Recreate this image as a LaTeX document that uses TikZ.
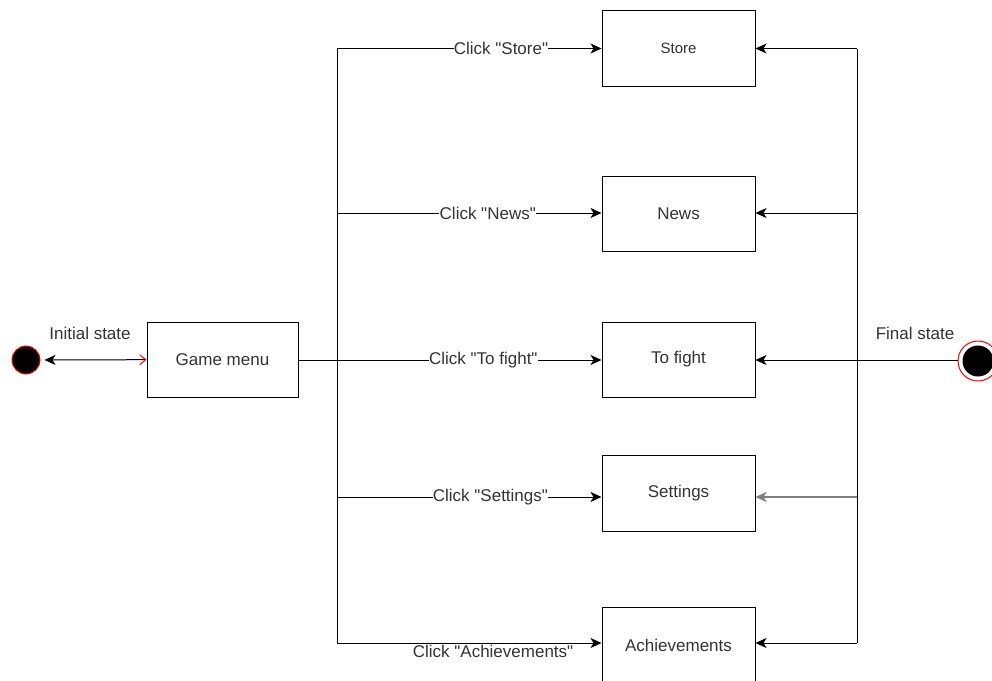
\documentclass[tikz,border=0pt]{standalone}
\usepackage{fontspec}
\setmainfont{Liberation Sans}
\usetikzlibrary{arrows.meta,positioning}

\definecolor{txtgray}{HTML}{333333}

\tikzset{
  screen/.style={draw, line width=1pt, minimum width=153pt, minimum height=75pt,
    inner sep=0pt, text=txtgray, font=\fontsize{17}{20}\selectfont},
  trans/.style={line width=1pt, -{Stealth[length=11pt,width=10pt,inset=3pt]}},
  lbl/.style={fill=white, inner sep=0.3pt, text=txtgray, font=\fontsize{17}{20}\selectfont},
}
\newcommand{\qt}{\textquotedbl}

\begin{document}
\begin{tikzpicture}[x=1pt,y=-1pt]
\useasboundingbox (0,0) rectangle (992,680);

% states
\node [circle, fill=black, draw=red, line width=0.9pt, minimum size=28pt, inner sep=0pt] (init) at (26,360) {};
\node [circle, fill=white, draw=red, line width=1pt, minimum size=40pt, inner sep=0pt] (fin) at (978,361) {};
\node [circle, fill=black, minimum size=31pt, inner sep=0pt] (finin) at (fin) {};

\node [lbl] (initlbl) at (90,333) {Initial state};
\node [lbl] (finlbl) at (915,333) {Final state};

% screens
\node [screen, minimum width=151pt] (menu) at (222.5,359.5) {Game menu};
\node [screen, minimum height=76pt, font=\fontsize{15}{18}\selectfont] (store) at (678.5,48) {Store};
\node [screen] (news) at (678.5,213.5) {News};
\node [screen] (fight) at (678.5,359.5) {To fight};
\node [screen, minimum height=76pt] (settings) at (678.5,493) {Settings};
\node [screen, minimum height=76pt, anchor=north] (achieve) at (678.5,607) {};
\node [text=txtgray, font=\fontsize{17}{20}\selectfont] (achtxt) at (678.5,645) {Achievements};

\draw [line width=1pt, {Stealth[length=11pt,width=10pt,inset=3pt]}-{Straight Barb[red,length=6pt,width=10pt]},
  shorten <=4pt] (init) -- (menu);

% left trunk
\coordinate (lt1) at (337,48.5);
\coordinate (lt2) at (337,213);
\coordinate (lt4) at (337,497);
\coordinate (lt5) at (337,643);
\draw [line width=1pt] (lt1) -- (lt5);

\draw [trans] (lt1) -- node [lbl, pos=0.62] {Click \qt Store\qt} (lt1 -| store.west);
\draw [trans] (lt2) -- node [lbl, pos=0.57] {Click \qt News\qt} (lt2 -| news.west);
\draw [trans] (menu.east |- fight.west) ++(0,0.5) coordinate (mid) -- node [lbl, pos=0.61] {Click \qt To fight\qt} (mid -| fight.west);
\draw [trans] (lt4) -- node [lbl, pos=0.58] {Click \qt Settings\qt} (lt4 -| settings.west);
\draw [trans] (lt5) -- node [lbl, pos=0.59, yshift=-8pt] {Click \qt Achievements\qt} (lt5 -| achieve.west);

% right trunk
\coordinate (rt1) at (857,48.5);
\coordinate (rt2) at (857,213);
\coordinate (rt4) at (857,497);
\coordinate (rt5) at (857,643);
\draw [line width=1pt] (rt1) -- (rt5);

\draw [trans] (rt1) -- (rt1 -| store.east);
\draw [trans] (rt2) -- (rt2 -| news.east);
\draw [trans] (fin.west |- mid) -- (mid -| fight.east);
\draw [trans, draw=gray, line width=1.6pt] (rt4) -- (rt4 -| settings.east);
\draw [trans] (rt5) -- (rt5 -| achieve.east);

\end{tikzpicture}
\end{document}
